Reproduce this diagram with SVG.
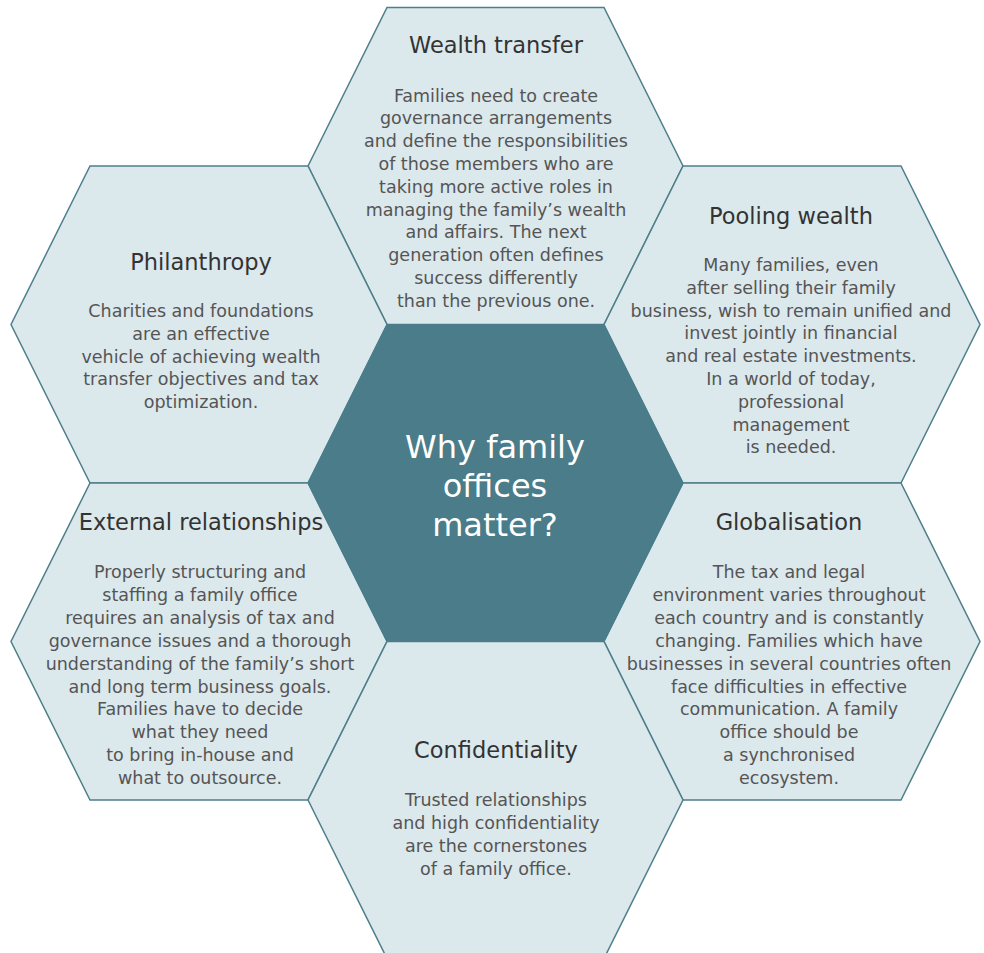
<svg xmlns="http://www.w3.org/2000/svg" width="984" height="953" viewBox="0 0 984 953">
<style>
.hex{fill:#dbe8ec;stroke:#4d7f8b;stroke-width:1.5;stroke-linejoin:miter}
.core{fill:#4a7c89;stroke:#4a7c89;stroke-width:1}
.t{font-family:"DejaVu Sans","Liberation Sans",sans-serif;font-size:22.5px;fill:#333333;text-anchor:middle}
.b{font-family:"DejaVu Sans","Liberation Sans",sans-serif;font-size:17.5px;fill:#555555;text-anchor:middle}
.c{font-family:"DejaVu Sans","Liberation Sans",sans-serif;font-size:32px;fill:#ffffff;text-anchor:middle}
</style>
<rect width="984" height="953" fill="#ffffff"/>
<g id="wealth-transfer">
<polygon class="hex" points="387,7.5 604,7.5 683,166 604,324.5 387,324.5 308,166"/>
<text class="t" x="496" y="53">Wealth transfer</text>
<text class="b" x="496" y="101.5">Families need to create</text>
<text class="b" x="496" y="124.3">governance arrangements</text>
<text class="b" x="496" y="147.1">and define the responsibilities</text>
<text class="b" x="496" y="169.9">of those members who are</text>
<text class="b" x="496" y="192.7">taking more active roles in</text>
<text class="b" x="496" y="215.5">managing the family’s wealth</text>
<text class="b" x="496" y="238.3">and affairs. The next</text>
<text class="b" x="496" y="261.1">generation often defines</text>
<text class="b" x="496" y="283.9">success differently</text>
<text class="b" x="496" y="306.7">than the previous one.</text>
</g>
<g id="philanthropy">
<polygon class="hex" points="90,166 308,166 387,324.5 308,483 90,483 11,324.5"/>
<text class="t" x="201" y="270">Philanthropy</text>
<text class="b" x="201" y="317">Charities and foundations</text>
<text class="b" x="201" y="339.8">are an effective</text>
<text class="b" x="201" y="362.6">vehicle of achieving wealth</text>
<text class="b" x="201" y="385.4">transfer objectives and tax</text>
<text class="b" x="201" y="408.2">optimization.</text>
</g>
<g id="pooling-wealth">
<polygon class="hex" points="683,166 901,166 980,324.5 901,483 683,483 604,324.5"/>
<text class="t" x="791" y="224">Pooling wealth</text>
<text class="b" x="791" y="271">Many families, even</text>
<text class="b" x="791" y="293.8">after selling their family</text>
<text class="b" x="791" y="316.6">business, wish to remain unified and</text>
<text class="b" x="791" y="339.4">invest jointly in financial</text>
<text class="b" x="791" y="362.2">and real estate investments.</text>
<text class="b" x="791" y="385">In a world of today,</text>
<text class="b" x="791" y="407.8">professional</text>
<text class="b" x="791" y="430.6">management</text>
<text class="b" x="791" y="453.4">is needed.</text>
</g>
<g id="external-relationships">
<polygon class="hex" points="90,483 308,483 387,641.5 308,800 90,800 11,641.5"/>
<text class="t" x="201" y="530">External relationships</text>
<text class="b" x="200" y="578">Properly structuring and</text>
<text class="b" x="200" y="600.9">staffing a family office</text>
<text class="b" x="200" y="623.8">requires an analysis of tax and</text>
<text class="b" x="200" y="646.7">governance issues and a thorough</text>
<text class="b" x="200" y="669.6">understanding of the family’s short</text>
<text class="b" x="200" y="692.5">and long term business goals.</text>
<text class="b" x="200" y="715.4">Families have to decide</text>
<text class="b" x="200" y="738.3">what they need</text>
<text class="b" x="200" y="761.2">to bring in-house and</text>
<text class="b" x="200" y="784.1">what to outsource.</text>
</g>
<g id="globalisation">
<polygon class="hex" points="683,483 901,483 980,641.5 901,800 683,800 604,641.5"/>
<text class="t" x="789" y="530">Globalisation</text>
<text class="b" x="789" y="578">The tax and legal</text>
<text class="b" x="789" y="600.9">environment varies throughout</text>
<text class="b" x="789" y="623.8">each country and is constantly</text>
<text class="b" x="789" y="646.7">changing. Families which have</text>
<text class="b" x="789" y="669.6">businesses in several countries often</text>
<text class="b" x="789" y="692.5">face difficulties in effective</text>
<text class="b" x="789" y="715.4">communication. A family</text>
<text class="b" x="789" y="738.3">office should be</text>
<text class="b" x="789" y="761.2">a synchronised</text>
<text class="b" x="789" y="784.1">ecosystem.</text>
</g>
<g id="confidentiality">
<polygon class="hex" points="387,641.5 604,641.5 683,800 604,958.5 387,958.5 308,800"/>
<text class="t" x="496" y="758">Confidentiality</text>
<text class="b" x="496" y="806">Trusted relationships</text>
<text class="b" x="496" y="828.9">and high confidentiality</text>
<text class="b" x="496" y="851.8">are the cornerstones</text>
<text class="b" x="496" y="874.7">of a family office.</text>
</g>
<g id="center">
<polygon class="core" points="387,324.5 604,324.5 683,483 604,641.5 387,641.5 308,483"/>
<text class="c" x="495" y="458">Why family</text>
<text class="c" x="495" y="497">offices</text>
<text class="c" x="495" y="536">matter?</text>
</g>
<g id="connectors"/>
</svg>
